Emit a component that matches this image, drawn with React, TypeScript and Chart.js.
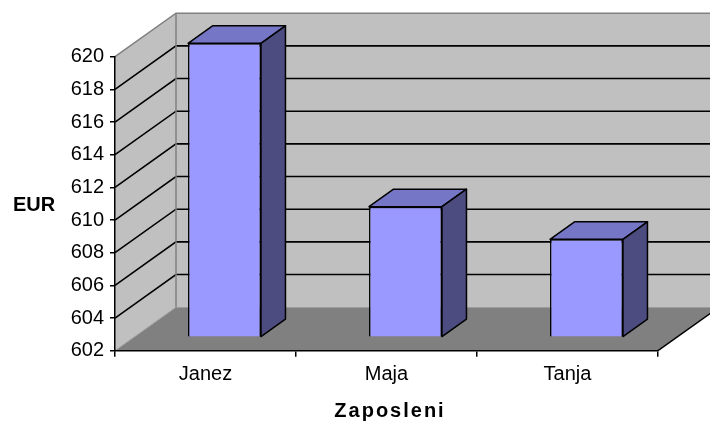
import React, { useEffect, useRef } from 'react';
import { Chart, registerables } from 'chart.js';

Chart.register(...registerables);

// ---- data ----
const categories: string[] = ['Janez', 'Maja', 'Tanja'];
const salaries: number[] = [620, 610, 608];
const yMin = 602;
const yMax = 620;
const yStep = 2;
const xTitle = 'Zaposleni';
const yTitle = 'EUR';

// ---- 3D look ----
const FONT = "'Liberation Sans', Arial, sans-serif";
const BACK_DX = 61;
const BACK_DY = -43.5;
const BAR_DX = 19;
const BAR_DY = -13.4;
const DEPTH_DX = 24.5;
const DEPTH_DY = -17.5;

const poly = (ctx: CanvasRenderingContext2D, pts: number[][], fill?: string, stroke?: string, lw = 1) => {
  ctx.beginPath();
  ctx.moveTo(pts[0][0], pts[0][1]);
  for (let i = 1; i < pts.length; i++) ctx.lineTo(pts[i][0], pts[i][1]);
  ctx.closePath();
  if (fill) {
    ctx.fillStyle = fill;
    ctx.fill();
  }
  if (stroke) {
    ctx.strokeStyle = stroke;
    ctx.lineWidth = lw;
    ctx.stroke();
  }
};

const line = (ctx: CanvasRenderingContext2D, pts: number[][], color: string, lw: number) => {
  ctx.beginPath();
  ctx.moveTo(pts[0][0], pts[0][1]);
  for (let i = 1; i < pts.length; i++) ctx.lineTo(pts[i][0], pts[i][1]);
  ctx.strokeStyle = color;
  ctx.lineWidth = lw;
  ctx.stroke();
};

const walls3d = {
  id: 'walls3d',
  beforeDraw(chart: any) {
    const { ctx, chartArea } = chart;
    const yScale = chart.scales.y;
    const L = chartArea.left, R = chartArea.right, T = chartArea.top, B = chartArea.bottom;
    const W = chart.width;
    ctx.save();
    poly(ctx, [[L + BACK_DX, T + BACK_DY], [W + 5, T + BACK_DY], [W + 5, B + BACK_DY], [L + BACK_DX, B + BACK_DY]], '#c0c0c0');
    poly(ctx, [[L, T], [L + BACK_DX, T + BACK_DY], [L + BACK_DX, B + BACK_DY], [L, B]], '#c0c0c0');
    poly(ctx, [[L, B], [L + BACK_DX, B + BACK_DY], [R + BACK_DX, B + BACK_DY], [R, B]], '#808080');
    yScale.ticks.forEach((t: any) => {
      const v = t.value;
      if (v <= yMin || v >= yMax) return;
      const py = yScale.getPixelForValue(v);
      line(ctx, [[L, py], [L + BACK_DX, py + BACK_DY], [W + 5, py + BACK_DY]], '#000', 1.6);
    });
    line(ctx, [[L, T], [L + BACK_DX, T + BACK_DY], [W + 5, T + BACK_DY]], '#808080', 1.5);
    line(ctx, [[L + BACK_DX, T + BACK_DY], [L + BACK_DX, B + BACK_DY]], '#808080', 1.5);
    line(ctx, [[L, B], [L + BACK_DX, B + BACK_DY]], '#a0a0a0', 1);
    line(ctx, [[R, B], [R + BACK_DX, B + BACK_DY]], '#000', 1.5);
    ctx.restore();
  },
  beforeDatasetsDraw(chart: any) {
    chart.ctx.save();
    chart.ctx.translate(BAR_DX, BAR_DY);
  },
  afterDatasetsDraw(chart: any) {
    const ctx = chart.ctx;
    const meta = chart.getDatasetMeta(0);
    meta.data.forEach((el: any) => {
      const { x, y, width, base } = el.getProps(['x', 'y', 'width', 'base'], true);
      const l = x - width / 2;
      const r = x + width / 2;
      ctx.lineJoin = 'round';
      poly(ctx, [[l, y], [l + DEPTH_DX, y + DEPTH_DY], [r + DEPTH_DX, y + DEPTH_DY], [r, y]], '#7676c6', '#000', 1.5);
      poly(ctx, [[r, y], [r + DEPTH_DX, y + DEPTH_DY], [r + DEPTH_DX, base + DEPTH_DY], [r, base]], '#4c4c80', '#000', 1.5);
    });
    ctx.restore();
  },
  afterDraw(chart: any) {
    const ctx = chart.ctx;
    const { left, right } = chart.chartArea;
    ctx.save();
    ctx.font = `bold 20px ${FONT}`;
    ctx.fillStyle = '#000';
    ctx.textAlign = 'left';
    ctx.textBaseline = 'alphabetic';
    ctx.fillText(yTitle, 13, 211);
    ctx.textAlign = 'center';
    (ctx as any).letterSpacing = '2px';
    ctx.fillText(xTitle, (left + right) / 2 + 3.5, 417);
    ctx.restore();
  },
};

export default function App() {
  const ref = useRef<HTMLCanvasElement>(null);
  useEffect(() => {
    document.body.style.margin = '0';
    const chart = new Chart(ref.current as HTMLCanvasElement, {
      type: 'bar',
      data: {
        labels: categories,
        datasets: [
          {
            label: yTitle,
            data: salaries,
            base: yMin,
            backgroundColor: '#9999ff',
            borderColor: '#000',
            borderWidth: 1.5,
            categoryPercentage: 1,
            barPercentage: 0.403,
            clip: false as any,
          } as any,
        ],
      },
      options: {
        responsive: false,
        animation: false,
        devicePixelRatio: 1,
        layout: { padding: { top: 56.7, right: 52, bottom: 2.5, left: 0 } },
        plugins: {
          legend: { display: false },
          tooltip: { enabled: false },
        },
        scales: {
          x: {
            grid: { display: true, drawOnChartArea: false, drawTicks: true, tickLength: 6, color: '#000', lineWidth: 1.5 },
            border: { display: true, color: '#000', width: 1.5 },
            ticks: { color: '#000', font: { family: FONT, size: 20 }, padding: 6 },
            title: { display: false, text: xTitle },
            afterFit: (s: any) => {
              s.height = 423 - 350.7 - 2.5;
            },
          },
          y: {
            min: yMin,
            max: yMax,
            grid: { display: true, drawOnChartArea: false, drawTicks: true, tickLength: 5, color: '#000', lineWidth: 1.5 },
            border: { display: true, color: '#000', width: 1.5 },
            ticks: { stepSize: yStep, color: '#000', font: { family: FONT, size: 20 }, padding: 6 },
            afterFit: (s: any) => {
              s.width = 115;
            },
          },
        },
      },
      plugins: [walls3d],
    });
    return () => chart.destroy();
  }, []);
  return (
    <div style={{ width: 710, height: 423 }}>
      <canvas ref={ref} width={710} height={423} style={{ display: 'block' }} />
    </div>
  );
}
